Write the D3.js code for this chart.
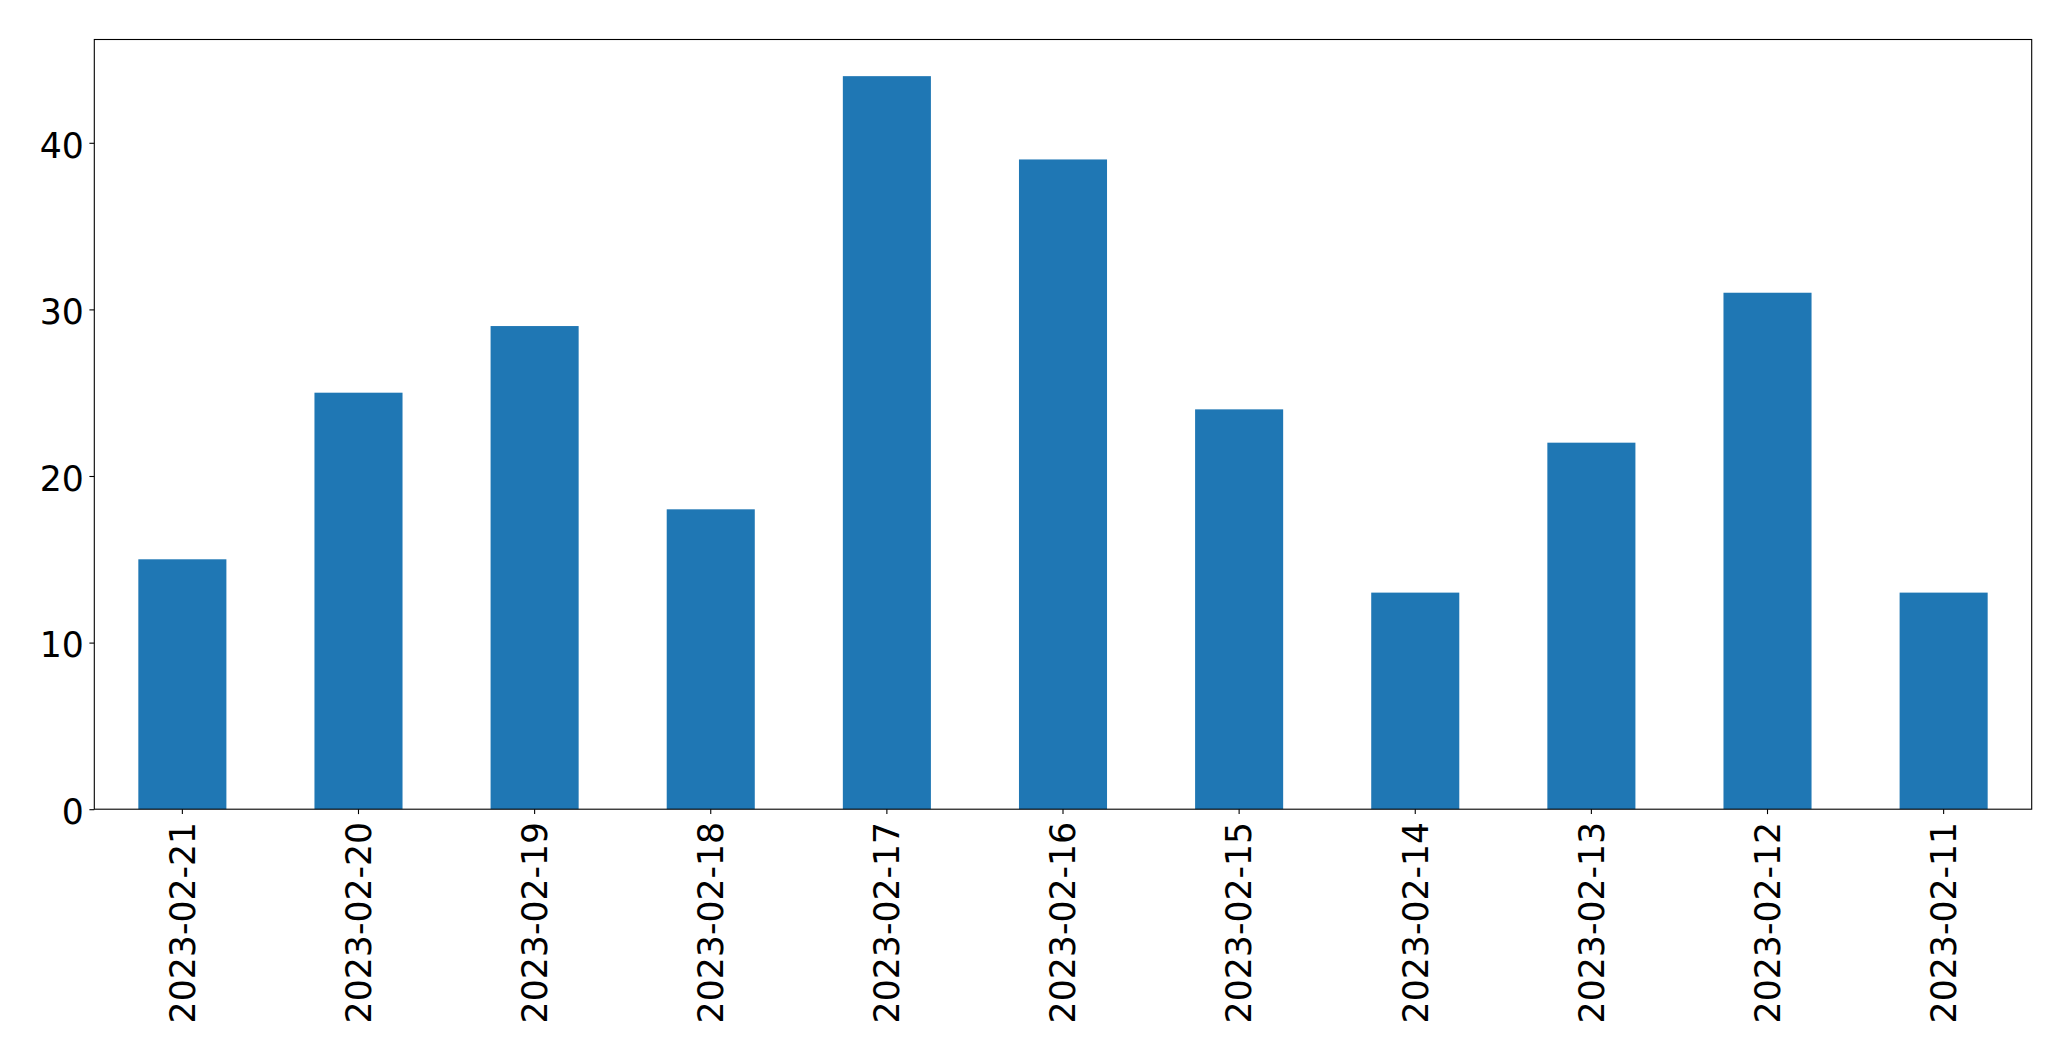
<!DOCTYPE html>
<html>
<head>
<meta charset="utf-8">
<script src="https://cdn.jsdelivr.net/npm/d3@7"></script>
<style>
  html, body { margin: 0; padding: 0; background: #fff; }
  svg { display: block; }
  text { font-family: "DejaVu Sans", sans-serif; fill: #000; }
</style>
</head>
<body>
<div id="chart"></div>
<script>
const categories = ["2023-02-21","2023-02-20","2023-02-19","2023-02-18","2023-02-17","2023-02-16","2023-02-15","2023-02-14","2023-02-13","2023-02-12","2023-02-11"];
const values = [15, 25, 29, 18, 44, 39, 24, 13, 22, 31, 13];
const yTicks = [0, 10, 20, 30, 40];

const W = 2071, H = 1061;
const margin = {left: 94.3, right: W - 2031.7, top: 39.5, bottom: H - 809.2};
const fontSize = 34.7;

const svg = d3.select("#chart").append("svg").attr("width", W).attr("height", H);

const x = d3.scaleBand().domain(categories)
  .range([margin.left, W - margin.right])
  .paddingInner(0.5).paddingOuter(0.25);
const y = d3.scaleLinear().domain([0, d3.max(values) * 1.05])
  .range([H - margin.bottom, margin.top]);

// bars
svg.append("g").selectAll("rect").data(values).join("rect")
  .attr("x", (d, i) => x(categories[i]))
  .attr("width", x.bandwidth())
  .attr("y", d => y(d))
  .attr("height", d => y(0) - y(d))
  .attr("fill", "#1f77b4");

// x axis
const xAxis = svg.append("g")
  .attr("transform", `translate(0,${y(0)})`)
  .call(d3.axisBottom(x).tickSize(4.9).tickPadding(0).tickSizeOuter(0));
xAxis.select(".domain").remove();
xAxis.selectAll(".tick line").attr("stroke", "#000").attr("stroke-width", 1.1);
xAxis.selectAll(".tick text")
  .attr("font-size", fontSize)
  .attr("text-anchor", "end")
  .attr("transform", "translate(0,12.6) rotate(-90)")
  .attr("x", 0).attr("y", 0)
  .attr("dy", "0.355em");

// y axis
const yAxis = svg.append("g")
  .attr("transform", `translate(${margin.left},0)`)
  .call(d3.axisLeft(y).tickValues(yTicks).tickSize(4.9).tickPadding(5.6).tickSizeOuter(0));
yAxis.select(".domain").remove();
yAxis.selectAll(".tick line").attr("stroke", "#000").attr("stroke-width", 1.1);
yAxis.selectAll(".tick text")
  .attr("font-size", fontSize)
  .attr("dy", "0.41em");

// frame
svg.append("rect")
  .attr("x", margin.left).attr("y", margin.top)
  .attr("width", W - margin.left - margin.right)
  .attr("height", H - margin.top - margin.bottom)
  .attr("fill", "none").attr("stroke", "#000").attr("stroke-width", 1.1);
</script>
</body>
</html>
